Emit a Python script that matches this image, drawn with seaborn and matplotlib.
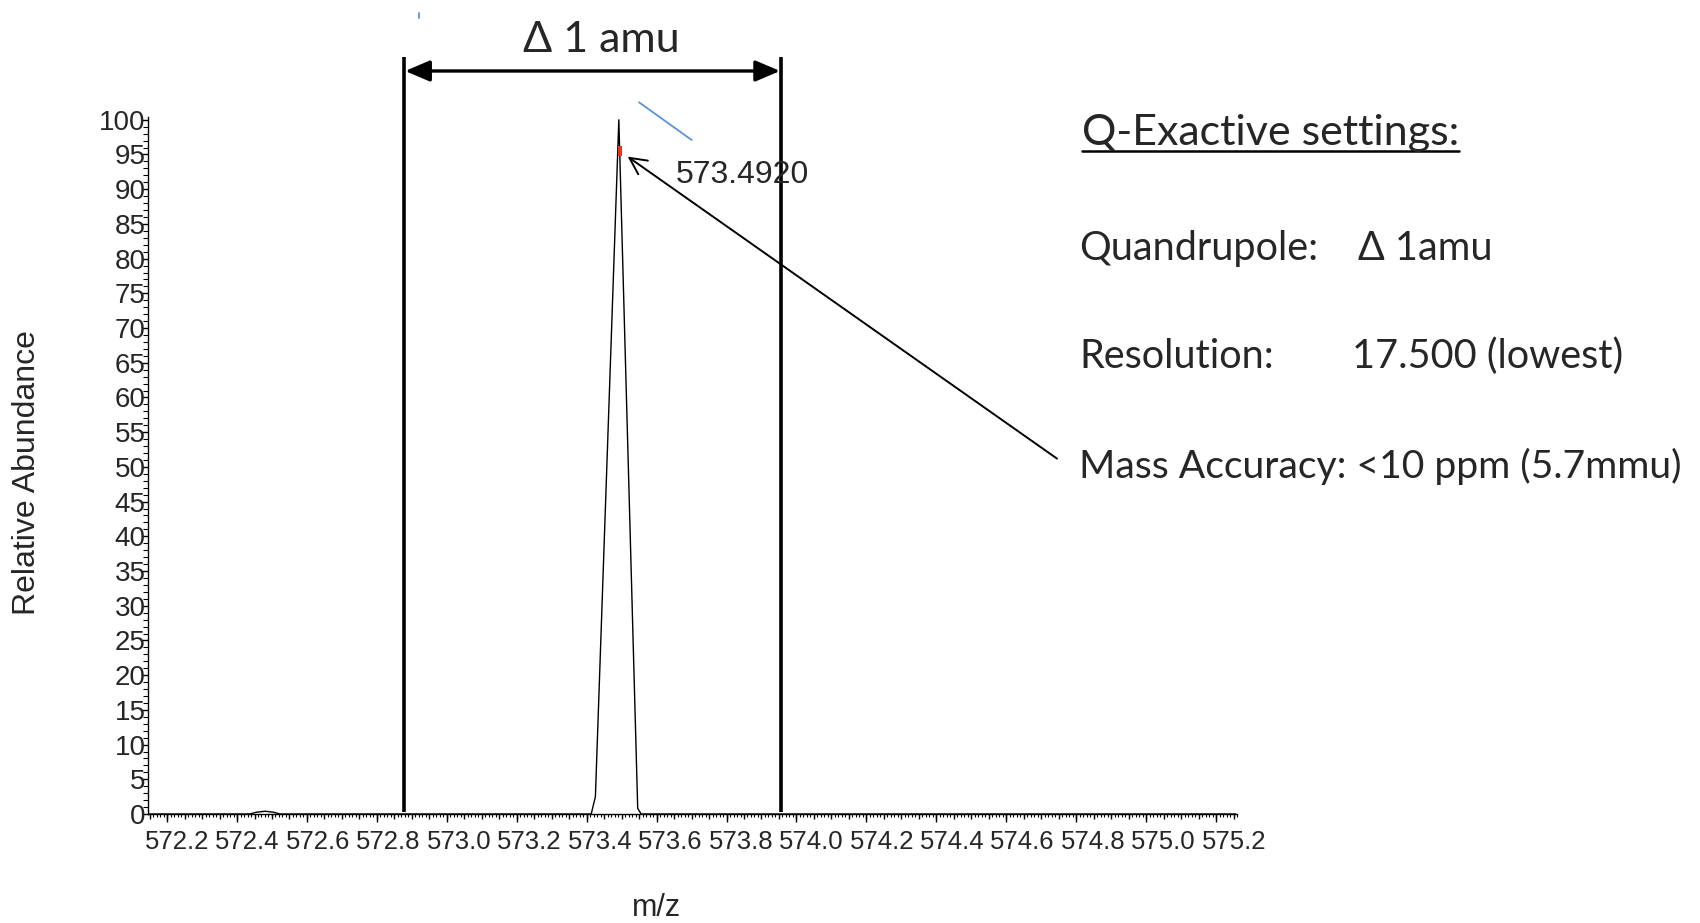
import numpy as np
import matplotlib
matplotlib.use("Agg")
import matplotlib.pyplot as plt
from matplotlib.lines import Line2D
from matplotlib.transforms import blended_transform_factory, ScaledTranslation
import seaborn as sns

# Profile spectrum (m/z vs. relative abundance)
mz = [572.1454, 572.437, 572.455, 572.480, 572.505, 572.523,
      573.413, 573.425, 573.492, 573.546, 573.556, 575.2564]
abundance = [0.0, 0.0, 0.25, 0.4, 0.25, 0.0,
             0.0, 2.5, 100.0, 0.8, 0.0, 0.0]

# Centroid of the main peak
centroid_mz = 573.4945
centroid_ab = 95.5
centroid_label = "573.4920"

# Quadrupole isolation window
window = [572.877, 573.957]
window_label = "\u0394 1 amu"

x_ticks = [572.2, 572.4, 572.6, 572.8, 573.0, 573.2, 573.4, 573.6, 573.8,
           574.0, 574.2, 574.4, 574.6, 574.8, 575.0, 575.2]
y_ticks = list(range(0, 101, 5))

settings_title = "Q-Exactive settings:"
settings_rows = [("Quandrupole:", "\u0394 1amu"),
                 ("Resolution:", "17.500 (lowest)"),
                 ("Mass Accuracy: <10 ppm (5.7mmu)", "")]

sns.set_style("ticks")
plt.rcParams["font.family"] = ["Liberation Sans", "DejaVu Sans"]

W, H = 1700, 923
fig = plt.figure(figsize=(W / 100, H / 100), dpi=100)
ax = fig.add_axes([148 / W, 1 - 814 / H, (1237 - 148) / W, (814 - 117) / H])

sns.lineplot(x=mz, y=abundance, ax=ax, color="black", linewidth=1.0)
ax.plot([centroid_mz], [centroid_ab], linestyle="none",
        marker=[(-0.45, -1), (0.45, -1), (0.45, 1), (-0.45, 1), (-0.45, -1)],
        ms=6.5, color="#F0301A", mew=0)

ax.set_xlim(mz[0], mz[-1])
ax.set_ylim(0, 100.4)
sns.despine(ax=ax)
for s in ("left", "bottom"):
    ax.spines[s].set_linewidth(1.0)
    ax.spines[s].set_color("black")

ax.set_xticks(x_ticks)
ax.set_xticklabels([f"{v:.1f}" for v in x_ticks], fontsize=18.5)
ax.set_xticks(np.arange(572.15, 575.26, 0.01), minor=True)
ax.set_yticks(y_ticks)
ax.set_yticklabels([str(v) for v in y_ticks], fontsize=20)
ax.set_yticks(np.arange(0, 101, 1), minor=True)
ax.tick_params(axis="x", which="major", length=5.5, width=1, color="black", pad=6)
ax.tick_params(axis="x", which="minor", length=2.2, width=0.8, color="black")
ax.tick_params(axis="y", which="major", length=4.5, width=1, color="black", pad=-2.8)
ax.tick_params(axis="y", which="minor", length=3.5, width=0.8, color="black")

# the instrument software sets its m/z labels slightly right of the ticks
n = len(x_ticks)
for i, lab in enumerate(ax.get_xticklabels()):
    dx_px = 10 + 8 * i / (n - 1)
    lab.set_transform(lab.get_transform() + ScaledTranslation(dx_px / 100, 0, fig.dpi_scale_trans))

# intermediate ticks every 0.05
sec = ax.secondary_xaxis("bottom")
sec.set_xticks(np.arange(572.15, 575.26, 0.05))
sec.tick_params(length=3.8, width=1, color="black", labelbottom=False)
sec.spines["bottom"].set_visible(False)

ax.set_xlabel("m/z", fontsize=22)
ax.xaxis.set_label_coords((657 - 148) / 1089, (814 - 908) / 697)
ax.xaxis.label.set_verticalalignment("center")
ax.set_ylabel("Relative Abundance", fontsize=23)
ax.yaxis.set_label_coords((27 - 148) / 1089, (814 - 473) / 697)
ax.yaxis.label.set_verticalalignment("center")

# isolation window lines and span arrow
trans = blended_transform_factory(ax.transData, ax.transAxes)
ax.vlines(window, 0.003, 1.086, transform=trans, colors="black",
          linewidth=2.6, clip_on=False)
ax.annotate("", xy=(window[0], 1.066), xytext=(window[1], 1.066),
            xycoords=trans, textcoords=trans,
            arrowprops=dict(arrowstyle="<|-|>,head_length=0.75,head_width=0.32",
                            lw=2.4, color="black", shrinkA=1, shrinkB=1,
                            mutation_scale=20), annotation_clip=False)

calibri_like = ["Lato", "DejaVu Sans"]
fig.text(601 / W, 1 - 52 / H, window_label, ha="center", va="baseline",
         fontsize=31, family=calibri_like)

# centroid label and pointer
fig.text(676 / W, 1 - 175 / H, centroid_label, ha="left", va="center", fontsize=23)
ax.annotate("", xy=(centroid_mz, centroid_ab), xycoords="data",
            xytext=(1057, H - 458.6), textcoords="figure pixels",
            arrowprops=dict(arrowstyle="->,head_length=0.6,head_width=0.3",
                            lw=1.4, color="black", shrinkA=0, shrinkB=7,
                            mutation_scale=20), annotation_clip=False)

# stray pen strokes
stroke_color = "#5B93D3"
fig.add_artist(Line2D([639 / W, 691.7 / W], [1 - 102.3 / H, 1 - 140 / H],
                      color=stroke_color, lw=1.3))
fig.add_artist(Line2D([419.3 / W, 419.3 / W], [1 - 12.7 / H, 1 - 18.3 / H],
                      color=stroke_color, lw=1.3))

# settings panel
title = fig.text(1082 / W, 1 - 145 / H, settings_title, ha="left", va="baseline",
                 fontsize=31, family=calibri_like)
baselines = [260, 368, 478]
value_x = [1358, 1352, None]
row_sizes = [28.5, 28.5, 28.2]
for (lab, val), yb, vx, fs in zip(settings_rows, baselines, value_x, row_sizes):
    fig.text(1079 / W, 1 - yb / H, lab, ha="left", va="baseline",
             fontsize=fs, family=calibri_like)
    if val:
        fig.text(vx / W, 1 - yb / H, val, ha="left", va="baseline",
                 fontsize=fs, family=calibri_like)

fig.canvas.draw()
bb = title.get_window_extent(fig.canvas.get_renderer())
fig.add_artist(Line2D([bb.x0 / W, bb.x1 / W], [1 - 151 / H, 1 - 151 / H],
                      color="black", lw=1.8))

fig.savefig("out.png", dpi=100, facecolor="white")
